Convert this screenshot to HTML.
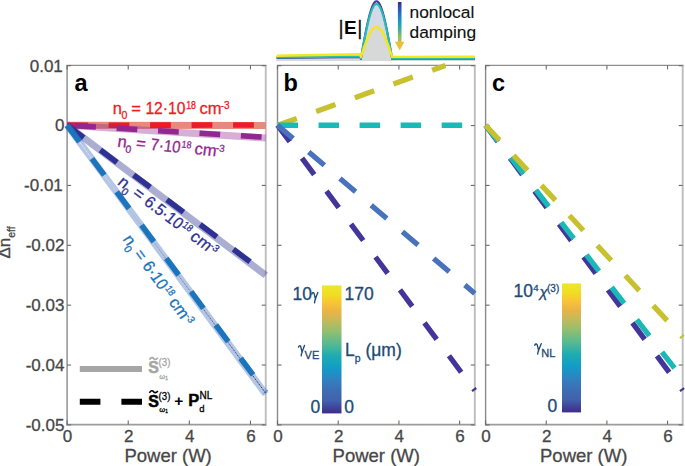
<!DOCTYPE html>
<html><head><meta charset="utf-8"><style>
html,body{margin:0;padding:0;background:#fff;}
body{width:685px;height:466px;overflow:hidden;font-family:"Liberation Sans",sans-serif;}
svg{display:block;}
</style></head><body>
<svg width="685" height="466" viewBox="0 0 685 466" font-family="Liberation Sans, sans-serif">
<defs>
<linearGradient id="par" x1="0" y1="1" x2="0" y2="0">
<stop offset="0.000" stop-color="rgb(60,45,140)"/>
<stop offset="0.040" stop-color="rgb(65,65,152)"/>
<stop offset="0.100" stop-color="rgb(65,98,172)"/>
<stop offset="0.170" stop-color="rgb(62,108,178)"/>
<stop offset="0.260" stop-color="rgb(50,128,192)"/>
<stop offset="0.350" stop-color="rgb(18,155,200)"/>
<stop offset="0.450" stop-color="rgb(30,172,178)"/>
<stop offset="0.540" stop-color="rgb(85,185,145)"/>
<stop offset="0.640" stop-color="rgb(146,191,112)"/>
<stop offset="0.730" stop-color="rgb(200,185,88)"/>
<stop offset="0.800" stop-color="rgb(235,180,70)"/>
<stop offset="0.860" stop-color="rgb(248,195,55)"/>
<stop offset="0.930" stop-color="rgb(240,222,32)"/>
<stop offset="1.000" stop-color="rgb(236,230,50)"/>
</linearGradient>
<linearGradient id="arr" x1="0" y1="0" x2="0" y2="1">
<stop offset="0.000" stop-color="rgb(55,45,140)"/>
<stop offset="0.220" stop-color="rgb(45,95,195)"/>
<stop offset="0.450" stop-color="rgb(20,150,200)"/>
<stop offset="0.650" stop-color="rgb(45,175,155)"/>
<stop offset="0.850" stop-color="rgb(140,190,105)"/>
<stop offset="1.000" stop-color="rgb(200,190,70)"/>
</linearGradient>
</defs>
<rect width="685" height="466" fill="#fff"/>
<line x1="66.5" y1="65.4" x2="266.65" y2="65.4" stroke="#8e8e8e" stroke-width="1.3"/>
<line x1="66.5" y1="424.6" x2="266.65" y2="424.6" stroke="#9c9c9c" stroke-width="1.6"/>
<line x1="67.1" y1="65.4" x2="67.1" y2="425.40000000000003" stroke="#8a8a8a" stroke-width="1.4"/>
<line x1="265.75" y1="65.4" x2="265.75" y2="425.40000000000003" stroke="#bdbdbd" stroke-width="1.9"/>
<line x1="67.10" y1="424.6" x2="67.10" y2="420.6" stroke="#6a6a6a" stroke-width="1.1"/>
<line x1="67.10" y1="65.4" x2="67.10" y2="69.4" stroke="#6a6a6a" stroke-width="1.1"/>
<line x1="128.22" y1="424.6" x2="128.22" y2="420.6" stroke="#6a6a6a" stroke-width="1.1"/>
<line x1="128.22" y1="65.4" x2="128.22" y2="69.4" stroke="#6a6a6a" stroke-width="1.1"/>
<line x1="189.35" y1="424.6" x2="189.35" y2="420.6" stroke="#6a6a6a" stroke-width="1.1"/>
<line x1="189.35" y1="65.4" x2="189.35" y2="69.4" stroke="#6a6a6a" stroke-width="1.1"/>
<line x1="250.47" y1="424.6" x2="250.47" y2="420.6" stroke="#6a6a6a" stroke-width="1.1"/>
<line x1="250.47" y1="65.4" x2="250.47" y2="69.4" stroke="#6a6a6a" stroke-width="1.1"/>
<line x1="67.1" y1="65.70" x2="71.1" y2="65.70" stroke="#6a6a6a" stroke-width="1.1"/>
<line x1="265.75" y1="65.70" x2="261.75" y2="65.70" stroke="#6a6a6a" stroke-width="1.1"/>
<line x1="67.1" y1="125.57" x2="71.1" y2="125.57" stroke="#6a6a6a" stroke-width="1.1"/>
<line x1="265.75" y1="125.57" x2="261.75" y2="125.57" stroke="#6a6a6a" stroke-width="1.1"/>
<line x1="67.1" y1="185.43" x2="71.1" y2="185.43" stroke="#6a6a6a" stroke-width="1.1"/>
<line x1="265.75" y1="185.43" x2="261.75" y2="185.43" stroke="#6a6a6a" stroke-width="1.1"/>
<line x1="67.1" y1="245.30" x2="71.1" y2="245.30" stroke="#6a6a6a" stroke-width="1.1"/>
<line x1="265.75" y1="245.30" x2="261.75" y2="245.30" stroke="#6a6a6a" stroke-width="1.1"/>
<line x1="67.1" y1="305.17" x2="71.1" y2="305.17" stroke="#6a6a6a" stroke-width="1.1"/>
<line x1="265.75" y1="305.17" x2="261.75" y2="305.17" stroke="#6a6a6a" stroke-width="1.1"/>
<line x1="67.1" y1="365.03" x2="71.1" y2="365.03" stroke="#6a6a6a" stroke-width="1.1"/>
<line x1="265.75" y1="365.03" x2="261.75" y2="365.03" stroke="#6a6a6a" stroke-width="1.1"/>
<line x1="67.1" y1="424.90" x2="71.1" y2="424.90" stroke="#6a6a6a" stroke-width="1.1"/>
<line x1="265.75" y1="424.90" x2="261.75" y2="424.90" stroke="#6a6a6a" stroke-width="1.1"/>
<line x1="276.9" y1="65.4" x2="475.7" y2="65.4" stroke="#8e8e8e" stroke-width="1.3"/>
<line x1="276.9" y1="424.6" x2="475.7" y2="424.6" stroke="#9c9c9c" stroke-width="1.6"/>
<line x1="277.5" y1="65.4" x2="277.5" y2="425.40000000000003" stroke="#8a8a8a" stroke-width="1.4"/>
<line x1="474.8" y1="65.4" x2="474.8" y2="425.40000000000003" stroke="#bdbdbd" stroke-width="1.9"/>
<line x1="277.50" y1="424.6" x2="277.50" y2="420.6" stroke="#6a6a6a" stroke-width="1.1"/>
<line x1="277.50" y1="65.4" x2="277.50" y2="69.4" stroke="#6a6a6a" stroke-width="1.1"/>
<line x1="338.21" y1="424.6" x2="338.21" y2="420.6" stroke="#6a6a6a" stroke-width="1.1"/>
<line x1="338.21" y1="65.4" x2="338.21" y2="69.4" stroke="#6a6a6a" stroke-width="1.1"/>
<line x1="398.92" y1="424.6" x2="398.92" y2="420.6" stroke="#6a6a6a" stroke-width="1.1"/>
<line x1="398.92" y1="65.4" x2="398.92" y2="69.4" stroke="#6a6a6a" stroke-width="1.1"/>
<line x1="459.62" y1="424.6" x2="459.62" y2="420.6" stroke="#6a6a6a" stroke-width="1.1"/>
<line x1="459.62" y1="65.4" x2="459.62" y2="69.4" stroke="#6a6a6a" stroke-width="1.1"/>
<line x1="277.5" y1="65.70" x2="281.5" y2="65.70" stroke="#6a6a6a" stroke-width="1.1"/>
<line x1="474.8" y1="65.70" x2="470.8" y2="65.70" stroke="#6a6a6a" stroke-width="1.1"/>
<line x1="277.5" y1="125.57" x2="281.5" y2="125.57" stroke="#6a6a6a" stroke-width="1.1"/>
<line x1="474.8" y1="125.57" x2="470.8" y2="125.57" stroke="#6a6a6a" stroke-width="1.1"/>
<line x1="277.5" y1="185.43" x2="281.5" y2="185.43" stroke="#6a6a6a" stroke-width="1.1"/>
<line x1="474.8" y1="185.43" x2="470.8" y2="185.43" stroke="#6a6a6a" stroke-width="1.1"/>
<line x1="277.5" y1="245.30" x2="281.5" y2="245.30" stroke="#6a6a6a" stroke-width="1.1"/>
<line x1="474.8" y1="245.30" x2="470.8" y2="245.30" stroke="#6a6a6a" stroke-width="1.1"/>
<line x1="277.5" y1="305.17" x2="281.5" y2="305.17" stroke="#6a6a6a" stroke-width="1.1"/>
<line x1="474.8" y1="305.17" x2="470.8" y2="305.17" stroke="#6a6a6a" stroke-width="1.1"/>
<line x1="277.5" y1="365.03" x2="281.5" y2="365.03" stroke="#6a6a6a" stroke-width="1.1"/>
<line x1="474.8" y1="365.03" x2="470.8" y2="365.03" stroke="#6a6a6a" stroke-width="1.1"/>
<line x1="277.5" y1="424.90" x2="281.5" y2="424.90" stroke="#6a6a6a" stroke-width="1.1"/>
<line x1="474.8" y1="424.90" x2="470.8" y2="424.90" stroke="#6a6a6a" stroke-width="1.1"/>
<line x1="485.0" y1="65.4" x2="683.6" y2="65.4" stroke="#8e8e8e" stroke-width="1.3"/>
<line x1="485.0" y1="424.6" x2="683.6" y2="424.6" stroke="#9c9c9c" stroke-width="1.6"/>
<line x1="485.6" y1="65.4" x2="485.6" y2="425.40000000000003" stroke="#8a8a8a" stroke-width="1.4"/>
<line x1="682.7" y1="65.4" x2="682.7" y2="425.40000000000003" stroke="#bdbdbd" stroke-width="1.9"/>
<line x1="485.60" y1="424.6" x2="485.60" y2="420.6" stroke="#6a6a6a" stroke-width="1.1"/>
<line x1="485.60" y1="65.4" x2="485.60" y2="69.4" stroke="#6a6a6a" stroke-width="1.1"/>
<line x1="546.25" y1="424.6" x2="546.25" y2="420.6" stroke="#6a6a6a" stroke-width="1.1"/>
<line x1="546.25" y1="65.4" x2="546.25" y2="69.4" stroke="#6a6a6a" stroke-width="1.1"/>
<line x1="606.89" y1="424.6" x2="606.89" y2="420.6" stroke="#6a6a6a" stroke-width="1.1"/>
<line x1="606.89" y1="65.4" x2="606.89" y2="69.4" stroke="#6a6a6a" stroke-width="1.1"/>
<line x1="667.54" y1="424.6" x2="667.54" y2="420.6" stroke="#6a6a6a" stroke-width="1.1"/>
<line x1="667.54" y1="65.4" x2="667.54" y2="69.4" stroke="#6a6a6a" stroke-width="1.1"/>
<line x1="485.6" y1="65.70" x2="489.6" y2="65.70" stroke="#6a6a6a" stroke-width="1.1"/>
<line x1="682.7" y1="65.70" x2="678.7" y2="65.70" stroke="#6a6a6a" stroke-width="1.1"/>
<line x1="485.6" y1="125.57" x2="489.6" y2="125.57" stroke="#6a6a6a" stroke-width="1.1"/>
<line x1="682.7" y1="125.57" x2="678.7" y2="125.57" stroke="#6a6a6a" stroke-width="1.1"/>
<line x1="485.6" y1="185.43" x2="489.6" y2="185.43" stroke="#6a6a6a" stroke-width="1.1"/>
<line x1="682.7" y1="185.43" x2="678.7" y2="185.43" stroke="#6a6a6a" stroke-width="1.1"/>
<line x1="485.6" y1="245.30" x2="489.6" y2="245.30" stroke="#6a6a6a" stroke-width="1.1"/>
<line x1="682.7" y1="245.30" x2="678.7" y2="245.30" stroke="#6a6a6a" stroke-width="1.1"/>
<line x1="485.6" y1="305.17" x2="489.6" y2="305.17" stroke="#6a6a6a" stroke-width="1.1"/>
<line x1="682.7" y1="305.17" x2="678.7" y2="305.17" stroke="#6a6a6a" stroke-width="1.1"/>
<line x1="485.6" y1="365.03" x2="489.6" y2="365.03" stroke="#6a6a6a" stroke-width="1.1"/>
<line x1="682.7" y1="365.03" x2="678.7" y2="365.03" stroke="#6a6a6a" stroke-width="1.1"/>
<line x1="485.6" y1="424.90" x2="489.6" y2="424.90" stroke="#6a6a6a" stroke-width="1.1"/>
<line x1="682.7" y1="424.90" x2="678.7" y2="424.90" stroke="#6a6a6a" stroke-width="1.1"/>
<text x="62.800000000000004" y="71.60" font-size="17" fill="#474747" text-anchor="end" stroke="#474747" stroke-width="0.3">0.01</text>
<text x="64.4" y="131.47" font-size="17" fill="#474747" text-anchor="end" stroke="#474747" stroke-width="0.3">0</text>
<text x="62.800000000000004" y="191.33" font-size="17" fill="#474747" text-anchor="end" stroke="#474747" stroke-width="0.3">-0.01</text>
<text x="64.4" y="251.20" font-size="17" fill="#474747" text-anchor="end" stroke="#474747" stroke-width="0.3">-0.02</text>
<text x="64.4" y="311.07" font-size="17" fill="#474747" text-anchor="end" stroke="#474747" stroke-width="0.3">-0.03</text>
<text x="64.4" y="370.93" font-size="17" fill="#474747" text-anchor="end" stroke="#474747" stroke-width="0.3">-0.04</text>
<text x="64.4" y="430.80" font-size="17" fill="#474747" text-anchor="end" stroke="#474747" stroke-width="0.3">-0.05</text>
<text x="67.50" y="441.8" font-size="17" fill="#474747" text-anchor="middle" stroke="#474747" stroke-width="0.3">0</text>
<text x="128.62" y="441.8" font-size="17" fill="#474747" text-anchor="middle" stroke="#474747" stroke-width="0.3">2</text>
<text x="189.75" y="441.8" font-size="17" fill="#474747" text-anchor="middle" stroke="#474747" stroke-width="0.3">4</text>
<text x="250.87" y="441.8" font-size="17" fill="#474747" text-anchor="middle" stroke="#474747" stroke-width="0.3">6</text>
<text x="168.1" y="461.7" font-size="18.5" fill="#474747" text-anchor="middle" stroke="#474747" stroke-width="0.3">Power (W)</text>
<text x="277.90" y="441.8" font-size="17" fill="#474747" text-anchor="middle" stroke="#474747" stroke-width="0.3">0</text>
<text x="338.61" y="441.8" font-size="17" fill="#474747" text-anchor="middle" stroke="#474747" stroke-width="0.3">2</text>
<text x="399.32" y="441.8" font-size="17" fill="#474747" text-anchor="middle" stroke="#474747" stroke-width="0.3">4</text>
<text x="460.02" y="441.8" font-size="17" fill="#474747" text-anchor="middle" stroke="#474747" stroke-width="0.3">6</text>
<text x="376.25" y="461.7" font-size="18.5" fill="#474747" text-anchor="middle" stroke="#474747" stroke-width="0.3">Power (W)</text>
<text x="486.00" y="441.8" font-size="17" fill="#474747" text-anchor="middle" stroke="#474747" stroke-width="0.3">0</text>
<text x="546.65" y="441.8" font-size="17" fill="#474747" text-anchor="middle" stroke="#474747" stroke-width="0.3">2</text>
<text x="607.29" y="441.8" font-size="17" fill="#474747" text-anchor="middle" stroke="#474747" stroke-width="0.3">4</text>
<text x="667.94" y="441.8" font-size="17" fill="#474747" text-anchor="middle" stroke="#474747" stroke-width="0.3">6</text>
<text x="583.7" y="461.7" font-size="18.5" fill="#474747" text-anchor="middle" stroke="#474747" stroke-width="0.3">Power (W)</text>
<text transform="translate(9.8,258.6) rotate(-90)" font-size="17" fill="#474747" stroke="#474747" stroke-width="0.3">Δn<tspan font-size="10.5" dy="4.8">eff</tspan></text>
<text x="74.5" y="90.8" font-size="23.5" font-weight="bold" fill="#000">a</text>
<text x="283.5" y="90.8" font-size="23.5" font-weight="bold" fill="#000">b</text>
<text x="492" y="90.8" font-size="23.5" font-weight="bold" fill="#000">c</text>
<line x1="67.10" y1="125.27" x2="265.75" y2="125.40" stroke="#e68a7c" stroke-width="7.0" stroke-linecap="butt" />
<line x1="67.10" y1="125.27" x2="265.75" y2="125.00" stroke="#ed1c24" stroke-width="5.6" stroke-dasharray="20.75 20.75" stroke-dashoffset="0.00" stroke-linecap="butt" />
<line x1="67.10" y1="125.27" x2="265.75" y2="138.00" stroke="#92278f" stroke-width="7.0" stroke-linecap="butt" stroke-opacity="0.37"/>
<line x1="67.10" y1="125.27" x2="265.75" y2="137.30" stroke="#92278f" stroke-width="5.6" stroke-dasharray="20.75 20.75" stroke-dashoffset="33.40" stroke-linecap="butt" />
<line x1="67.10" y1="125.27" x2="265.75" y2="275.20" stroke="#2e3192" stroke-width="7.0" stroke-linecap="butt" stroke-opacity="0.4"/>
<line x1="67.10" y1="125.27" x2="265.75" y2="273.50" stroke="#2e3192" stroke-width="5.6" stroke-dasharray="20.75 20.75" stroke-dashoffset="0.00" stroke-linecap="butt" />
<defs><linearGradient id="thin" gradientUnits="userSpaceOnUse" x1="67" y1="125" x2="265.7" y2="392"><stop offset="0" stop-color="#ffffff"/><stop offset="0.2" stop-color="#d8d8d8"/><stop offset="0.5" stop-color="#8a8a8a"/><stop offset="1" stop-color="#1a1a1a"/></linearGradient></defs>
<line x1="67.10" y1="125.27" x2="265.75" y2="394.20" stroke="#4170c3" stroke-width="7.0" stroke-linecap="butt" stroke-opacity="0.4"/>
<line x1="67.1" y1="125.27" x2="265.75" y2="393.2" stroke="url(#thin)" stroke-width="0.9" stroke-dasharray="1.2 0.8"/>
<line x1="67.10" y1="125.27" x2="265.75" y2="392.00" stroke="#1c75bc" stroke-width="5.6" stroke-dasharray="20.75 20.75" stroke-dashoffset="0.00" stroke-linecap="butt" />
<line x1="277.50" y1="125.27" x2="445.43" y2="65.40" stroke="#c8c12f" stroke-width="5.3" stroke-dasharray="20.52 20.52" stroke-dashoffset="0.00" stroke-linecap="butt" />
<line x1="277.50" y1="125.27" x2="474.80" y2="390.50" stroke="#43359a" stroke-width="5.3" stroke-dasharray="20.52 20.52" stroke-dashoffset="0.00" stroke-linecap="butt" />
<line x1="277.50" y1="125.27" x2="474.80" y2="125.27" stroke="#1ab8b6" stroke-width="5.3" stroke-dasharray="20.52 20.52" stroke-dashoffset="0.00" stroke-linecap="butt" />
<line x1="277.50" y1="125.27" x2="474.80" y2="293.50" stroke="#4872bc" stroke-width="5.3" stroke-dasharray="20.52 20.52" stroke-dashoffset="0.00" stroke-linecap="butt" />
<line x1="485.60" y1="125.27" x2="682.70" y2="390.50" stroke="#43359a" stroke-width="5.3" stroke-dasharray="20.52 20.52" stroke-dashoffset="0.00" stroke-linecap="butt" />
<line x1="485.60" y1="125.27" x2="682.70" y2="378.70" stroke="#1ab8b6" stroke-width="5.3" stroke-dasharray="20.52 20.52" stroke-dashoffset="0.00" stroke-linecap="butt" />
<line x1="485.60" y1="125.27" x2="682.70" y2="337.30" stroke="#c8c12f" stroke-width="5.3" stroke-dasharray="20.52 20.52" stroke-dashoffset="0.00" stroke-linecap="butt" />
<g transform="translate(113.9,114.0)" fill="#ed1c24" stroke="#ed1c24" stroke-width="0.3"><text x="-1.09" y="0" font-size="16.5">n</text><text x="7.49" y="4.9" font-size="10.5">0</text><text x="17.39" y="0" font-size="16.5">=</text><text x="31.51" y="0" font-size="16.5" textLength="39.93" lengthAdjust="spacingAndGlyphs">12·10</text><text x="72.24" y="-5.3" font-size="10.0" textLength="9.79" lengthAdjust="spacingAndGlyphs">18</text><text x="85.61" y="0" font-size="16.5">cm</text><text x="106.66" y="-5.0" font-size="10.0">-3</text></g>
<g transform="translate(118.1,146.8) rotate(5.5) skewX(-2)" fill="#92278f" stroke="#92278f" stroke-width="0.3"><text x="-1.09" y="0" font-size="16.5">n</text><text x="7.49" y="4.9" font-size="10.5">0</text><text x="17.39" y="0" font-size="16.5">=</text><text x="31.93" y="0" font-size="16.5" textLength="30.07" lengthAdjust="spacingAndGlyphs">7·10</text><text x="62.84" y="-5.3" font-size="10.0" textLength="9.79" lengthAdjust="spacingAndGlyphs">18</text><text x="76.21" y="0" font-size="16.5">cm</text><text x="97.26" y="-5.0" font-size="10.0">-3</text></g>
<g transform="translate(117.5,184.5) rotate(37.0) skewX(-3)" fill="#2e3192" stroke="#2e3192" stroke-width="0.3"><text x="-1.09" y="0" font-size="16.5">n</text><text x="7.49" y="4.9" font-size="10.5">0</text><text x="17.39" y="0" font-size="16.5">=</text><text x="31.92" y="0" font-size="16.5" textLength="43.50" lengthAdjust="spacingAndGlyphs">6.5·10</text><text x="76.24" y="-5.3" font-size="10.0" textLength="9.79" lengthAdjust="spacingAndGlyphs">18</text><text x="89.61" y="0" font-size="16.5">cm</text><text x="110.66" y="-5.0" font-size="10.0">-3</text></g>
<g transform="translate(123.0,240.0) rotate(54.0) skewX(-3)" fill="#1c75bc" stroke="#1c75bc" stroke-width="0.3"><text x="-1.09" y="0" font-size="16.5">n</text><text x="7.49" y="4.9" font-size="10.5">0</text><text x="17.39" y="0" font-size="16.5">=</text><text x="31.92" y="0" font-size="16.5" textLength="30.70" lengthAdjust="spacingAndGlyphs">6·10</text><text x="63.44" y="-5.3" font-size="10.0" textLength="9.79" lengthAdjust="spacingAndGlyphs">18</text><text x="76.81" y="0" font-size="16.5">cm</text><text x="97.86" y="-5.0" font-size="10.0">-3</text></g>
<line x1="79.80" y1="369.00" x2="142.00" y2="369.00" stroke="#a6a6a6" stroke-width="5.8" stroke-linecap="butt" />
<line x1="79.8" y1="401.7" x2="142" y2="401.7" stroke="#000" stroke-width="6" stroke-dasharray="20.6 21"/>
<g transform="translate(148.3,373.30) scale(0.94,1)"><text x="0" y="0" font-size="17" font-weight="bold" fill="#a6a6a6" stroke="#a6a6a6" stroke-width="0.55">S</text></g>
<path d="M149.4,359.60 C150.8,356.80 152.8,357.40 153.6,358.50 C154.4,359.60 156.4,360.20 157.8,357.70" fill="none" stroke="#a6a6a6" stroke-width="1.6"/>
<g transform="translate(158.6,366.40) scale(0.91,1)"><text x="0" y="0" font-size="10.6" fill="#a6a6a6" stroke="#a6a6a6" stroke-width="0.3">(3)</text></g>
<text x="159.3" y="379.10" font-size="7.6" fill="#a6a6a6" stroke="#a6a6a6" stroke-width="0.3">ω<tspan font-size="4.8" dy="0.9">1</tspan></text>
<g transform="translate(148.3,406.50) scale(0.94,1)"><text x="0" y="0" font-size="17" font-weight="bold" fill="#000" stroke="#000" stroke-width="0.55">S</text></g>
<path d="M149.4,392.80 C150.8,390.00 152.8,390.60 153.6,391.70 C154.4,392.80 156.4,393.40 157.8,390.90" fill="none" stroke="#000" stroke-width="1.6"/>
<g transform="translate(158.6,399.60) scale(0.91,1)"><text x="0" y="0" font-size="10.6" fill="#000" stroke="#000" stroke-width="0.3">(3)</text></g>
<text x="159.3" y="412.30" font-size="7.6" fill="#000" stroke="#000" stroke-width="0.3">ω<tspan font-size="4.8" dy="0.9">1</tspan></text>
<text x="174.3" y="405.90" font-size="15.5" font-weight="bold" fill="#000">+</text>
<g transform="translate(188.3,406.30) scale(0.97,1)"><text x="0" y="0" font-size="17" font-weight="bold" fill="#000" stroke="#000" stroke-width="0.45">P</text></g>
<text x="199.5" y="398.80" font-size="10" fill="#000" stroke="#000" stroke-width="0.3">NL</text>
<text x="199.3" y="411.50" font-size="9.5" fill="#000" stroke="#000" stroke-width="0.3">d</text>
<rect x="322" y="285.4" width="19.5" height="128" fill="url(#par)"/>
<text x="292.6" y="299.7" font-size="17.5" fill="#1d4a77" stroke="#1d4a77" stroke-width="0.3">10</text>
<path d="M311.89,294.00 C312.29,292.50 313.47,292.20 314.06,293.40 L315.54,299.60 M317.81,292.40 C316.82,295.10 315.24,299.10 314.85,300.60 L314.55,302.80" fill="none" stroke="#1d4a77" stroke-width="1.35" stroke-linecap="round" stroke-linejoin="round"/>
<text x="344.5" y="299.7" font-size="17.5" fill="#1d4a77" stroke="#1d4a77" stroke-width="0.3">170</text>
<path d="M298.50,347.10 C298.90,345.60 300.10,345.30 300.70,346.50 L302.20,352.70 M304.50,345.50 C303.50,348.20 301.90,352.20 301.50,353.70 L301.20,355.90" fill="none" stroke="#1d4a77" stroke-width="1.35" stroke-linecap="round" stroke-linejoin="round"/>
<text x="304.6" y="358.9" font-size="11" fill="#1d4a77" stroke="#1d4a77" stroke-width="0.3">VE</text>
<text x="345" y="356" font-size="17.5" fill="#1d4a77" stroke="#1d4a77" stroke-width="0.3">L<tspan font-size="10.5" dy="6">p</tspan><tspan dy="-6"> (μm)</tspan></text>
<text x="310.6" y="412.9" font-size="17.5" fill="#1d4a77" stroke="#1d4a77" stroke-width="0.3">0</text>
<text x="344.2" y="412.9" font-size="17.5" fill="#1d4a77" stroke="#1d4a77" stroke-width="0.3">0</text>
<rect x="562" y="283.4" width="19" height="129" fill="url(#par)"/>
<text x="513.6" y="297.4" font-size="17.5" fill="#1d4a77" stroke="#1d4a77" stroke-width="0.3">10</text>
<text x="533.2" y="291.4" font-size="9.6" fill="#1d4a77" stroke="#1d4a77" stroke-width="0.3">4</text>
<text x="539.6" y="297.3" font-size="15" font-style="italic" fill="#1d4a77" stroke="#1d4a77" stroke-width="0.3">χ</text>
<text x="547.0" y="292.3" font-size="10" fill="#1d4a77" stroke="#1d4a77" stroke-width="0.3">(3)</text>
<path d="M534.75,345.30 C535.18,343.80 536.48,343.50 537.13,344.70 L538.76,350.90 M541.25,343.70 C540.17,346.40 538.43,350.40 538.00,351.90 L537.68,354.10" fill="none" stroke="#1d4a77" stroke-width="1.35" stroke-linecap="round" stroke-linejoin="round"/>
<text x="541.2" y="356.6" font-size="11" fill="#1d4a77" stroke="#1d4a77" stroke-width="0.3">NL</text>
<text x="547.4" y="411.6" font-size="17.5" fill="#1d4a77" stroke="#1d4a77" stroke-width="0.3">0</text>
<polygon points="276.60,61.00 276.60,57.90 360.35,57.00 360.85,59.00 361.63,54.47 362.42,49.96 363.20,45.51 363.98,41.14 364.76,36.88 365.55,32.76 366.33,28.80 367.11,25.03 367.89,21.46 368.68,18.13 369.46,15.05 370.24,12.24 371.02,9.72 371.81,7.50 372.59,5.60 373.37,4.03 374.15,2.80 374.94,1.91 375.72,1.38 376.50,1.20 377.28,1.38 378.06,1.91 378.85,2.80 379.63,4.03 380.41,5.60 381.19,7.50 381.98,9.72 382.76,12.24 383.54,15.05 384.32,18.13 385.11,21.46 385.89,25.03 386.67,28.80 387.45,32.76 388.24,36.88 389.02,41.14 389.80,45.51 390.58,49.96 391.37,54.47 392.15,59.00 392.65,58.80 475.00,58.80 475.00,61.00" fill="#d3d9e7"/>
<polygon points="276.60,61.00 276.60,55.70 360.35,54.30 360.85,57.00 361.63,54.65 362.42,52.31 363.20,50.00 363.98,47.73 364.76,45.52 365.55,43.38 366.33,41.33 367.11,39.37 367.89,37.52 368.68,35.79 369.46,34.19 370.24,32.73 371.02,31.42 371.81,30.27 372.59,29.28 373.37,28.47 374.15,27.83 374.94,27.37 375.72,27.09 376.50,27.00 377.28,27.09 378.06,27.37 378.85,27.83 379.63,28.47 380.41,29.28 381.19,30.27 381.98,31.42 382.76,32.73 383.54,34.19 384.32,35.79 385.11,37.52 385.89,39.37 386.67,41.33 387.45,43.38 388.24,45.52 389.02,47.73 389.80,50.00 390.58,52.31 391.37,54.65 392.15,57.00 392.65,56.90 475.00,56.70 475.00,61.00" fill="#d6d9d7"/>
<polyline points="276.60,57.90 360.35,57.00 360.85,59.00 361.63,54.47 362.42,49.96 363.20,45.51 363.98,41.14 364.76,36.88 365.55,32.76 366.33,28.80 367.11,25.03 367.89,21.46 368.68,18.13 369.46,15.05 370.24,12.24 371.02,9.72 371.81,7.50 372.59,5.60 373.37,4.03 374.15,2.80 374.94,1.91 375.72,1.38 376.50,1.20 377.28,1.38 378.06,1.91 378.85,2.80 379.63,4.03 380.41,5.60 381.19,7.50 381.98,9.72 382.76,12.24 383.54,15.05 384.32,18.13 385.11,21.46 385.89,25.03 386.67,28.80 387.45,32.76 388.24,36.88 389.02,41.14 389.80,45.51 390.58,49.96 391.37,54.47 392.15,59.00 392.65,58.80 475.00,58.80" fill="none" stroke="#4632a0" stroke-width="2" stroke-linejoin="round"/>
<polyline points="276.60,57.40 360.35,56.40 360.85,58.40 361.63,54.13 362.42,49.89 363.20,45.70 363.98,41.59 364.76,37.58 365.55,33.70 366.33,29.98 367.11,26.42 367.89,23.07 368.68,19.93 369.46,17.03 370.24,14.39 371.02,12.02 371.81,9.93 372.59,8.14 373.37,6.66 374.15,5.50 374.94,4.67 375.72,4.17 376.50,4.00 377.28,4.17 378.06,4.67 378.85,5.50 379.63,6.66 380.41,8.14 381.19,9.93 381.98,12.02 382.76,14.39 383.54,17.03 384.32,19.93 385.11,23.07 385.89,26.42 386.67,29.98 387.45,33.70 388.24,37.58 389.02,41.59 389.80,45.70 390.58,49.89 391.37,54.13 392.15,58.40 392.65,58.50 475.00,58.50" fill="none" stroke="#26bcb2" stroke-width="2.2" stroke-linejoin="round"/>
<polyline points="276.60,55.70 360.35,54.30 360.85,57.00 361.63,54.65 362.42,52.31 363.20,50.00 363.98,47.73 364.76,45.52 365.55,43.38 366.33,41.33 367.11,39.37 367.89,37.52 368.68,35.79 369.46,34.19 370.24,32.73 371.02,31.42 371.81,30.27 372.59,29.28 373.37,28.47 374.15,27.83 374.94,27.37 375.72,27.09 376.50,27.00 377.28,27.09 378.06,27.37 378.85,27.83 379.63,28.47 380.41,29.28 381.19,30.27 381.98,31.42 382.76,32.73 383.54,34.19 384.32,35.79 385.11,37.52 385.89,39.37 386.67,41.33 387.45,43.38 388.24,45.52 389.02,47.73 389.80,50.00 390.58,52.31 391.37,54.65 392.15,57.00 392.65,56.90 475.00,56.70" fill="none" stroke="#f5e61e" stroke-width="2.4" stroke-linejoin="round"/>
<text x="338.4" y="35.2" font-size="19.5" fill="#111" stroke="#111" stroke-width="0.3">|</text>
<text x="344" y="34.3" font-size="19" font-weight="bold" fill="#000">E</text>
<text x="357.3" y="35.2" font-size="19.5" fill="#111" stroke="#111" stroke-width="0.3">|</text>
<rect x="397.9" y="2" width="3.6" height="40.5" fill="url(#arr)"/>
<polygon points="395.0,41.8 404.4,41.8 399.7,50.6" fill="#e9c133"/>
<text x="409.5" y="18" font-size="17.4" fill="#111" stroke="#111" stroke-width="0.12">nonlocal</text>
<text x="409.5" y="37.8" font-size="17.4" fill="#111" stroke="#111" stroke-width="0.12">damping</text>
</svg>
</body></html>
